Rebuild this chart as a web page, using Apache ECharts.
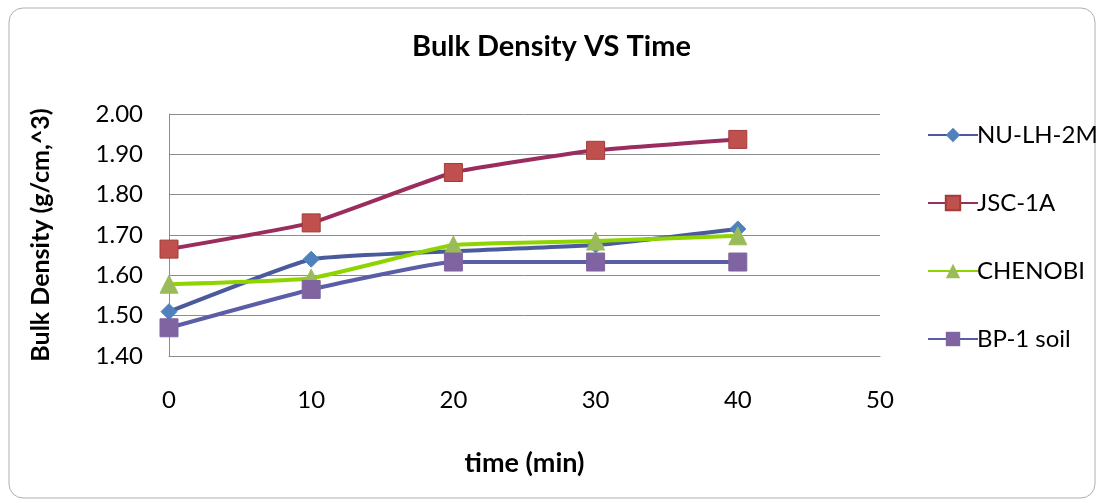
<!DOCTYPE html>
<html>
<head>
<meta charset="utf-8">
<script src="https://cdn.jsdelivr.net/npm/echarts@6/dist/echarts.min.js"></script>
<style>html,body{margin:0;padding:0;background:#fff;}#c{width:1103px;height:504px;}</style>
</head>
<body>
<div id="c"></div>
<script>
const times = [0, 10, 20, 30, 40];
const nuLh2m = [1.51, 1.64, 1.66, 1.675, 1.715];
const jsc1a = [1.665, 1.73, 1.855, 1.91, 1.937];
const chenobi = [1.578, 1.593, 1.675, 1.685, 1.698];
const bp1 = [1.47, 1.565, 1.633, 1.633, 1.633];
const seriesNames = ['NU-LH-2M', 'JSC-1A', 'CHENOBI', 'BP-1 soil'];

const pairs = arr => times.map((t, i) => [t, arr[i]]);
const font = 'Lato, "Open Sans", sans-serif';

const chart = echarts.init(document.getElementById('c'));
chart.setOption({
  animation: false,
  backgroundColor: '#fff',
  graphic: [{
    type: 'rect', shape: {x: 9, y: 8, width: 1086, height: 490, r: 14},
    style: {fill: 'none', stroke: '#b0b0b0', lineWidth: 1}, z: -1
  }],
  title: {
    text: 'Bulk Density VS Time', left: 'center', top: 27,
    textStyle: {fontFamily: font, fontSize: 29, fontWeight: 'bold', color: '#000'}
  },
  grid: {left: 169, right: 223, top: 114, bottom: 148},
  legend: {
    orient: 'vertical', left: 922, top: 118,
    itemWidth: 50, itemHeight: 18, itemGap: 44,
    textStyle: {fontFamily: font, fontSize: 24, color: '#000', padding: [0, 0, 0, -6]},
    data: seriesNames
  },
  xAxis: {
    type: 'value', min: 0, max: 50, interval: 10,
    name: 'time (min)', nameLocation: 'middle', nameGap: 94,
    nameTextStyle: {fontFamily: font, fontSize: 27, fontWeight: 'bold', color: '#000'},
    axisLine: {show: true, lineStyle: {color: '#8c8c8c'}},
    axisTick: {show: false},
    splitLine: {show: false},
    axisLabel: {fontFamily: font, fontSize: 24, color: '#000', margin: 32}
  },
  yAxis: {
    type: 'value', min: 1.4, max: 2.0, interval: 0.1,
    name: 'Bulk Density (g/cm,^3)', nameLocation: 'middle', nameGap: 116,
    nameTextStyle: {fontFamily: font, fontSize: 25, fontWeight: 'bold', color: '#000'},
    axisLine: {show: true, lineStyle: {color: '#8c8c8c'}},
    axisTick: {show: false},
    splitLine: {show: true, lineStyle: {color: '#8c8c8c', width: 1}},
    axisLabel: {fontFamily: font, fontSize: 24, color: '#000', margin: 26,
      formatter: v => v.toFixed(2)}
  },
  series: [
    {name: seriesNames[0], type: 'line', data: pairs(nuLh2m), smooth: 0.12,
     symbol: 'diamond', symbolSize: 16,
     lineStyle: {color: '#4a5a9c', width: 4},
     itemStyle: {color: '#4f81bd', borderColor: '#4f81bd'}},
    {name: seriesNames[1], type: 'line', data: pairs(jsc1a), smooth: 0.12,
     symbol: 'rect', symbolSize: 18,
     lineStyle: {color: '#9b2d5e', width: 4},
     itemStyle: {color: '#c0504d', borderColor: '#a03c3a', borderWidth: 1}},
    {name: seriesNames[2], type: 'line', data: pairs(chenobi), smooth: 0.12,
     symbol: 'triangle', symbolSize: 18,
     lineStyle: {color: '#8fd400', width: 4},
     itemStyle: {color: '#9bbb59', borderColor: '#9bbb59'}},
    {name: seriesNames[3], type: 'line', data: pairs(bp1), smooth: 0.12,
     symbol: 'rect', symbolSize: 18,
     lineStyle: {color: '#5b5ea6', width: 4},
     itemStyle: {color: '#8064a2', borderColor: '#8064a2'}}
  ]
});
</script>
</body>
</html>
